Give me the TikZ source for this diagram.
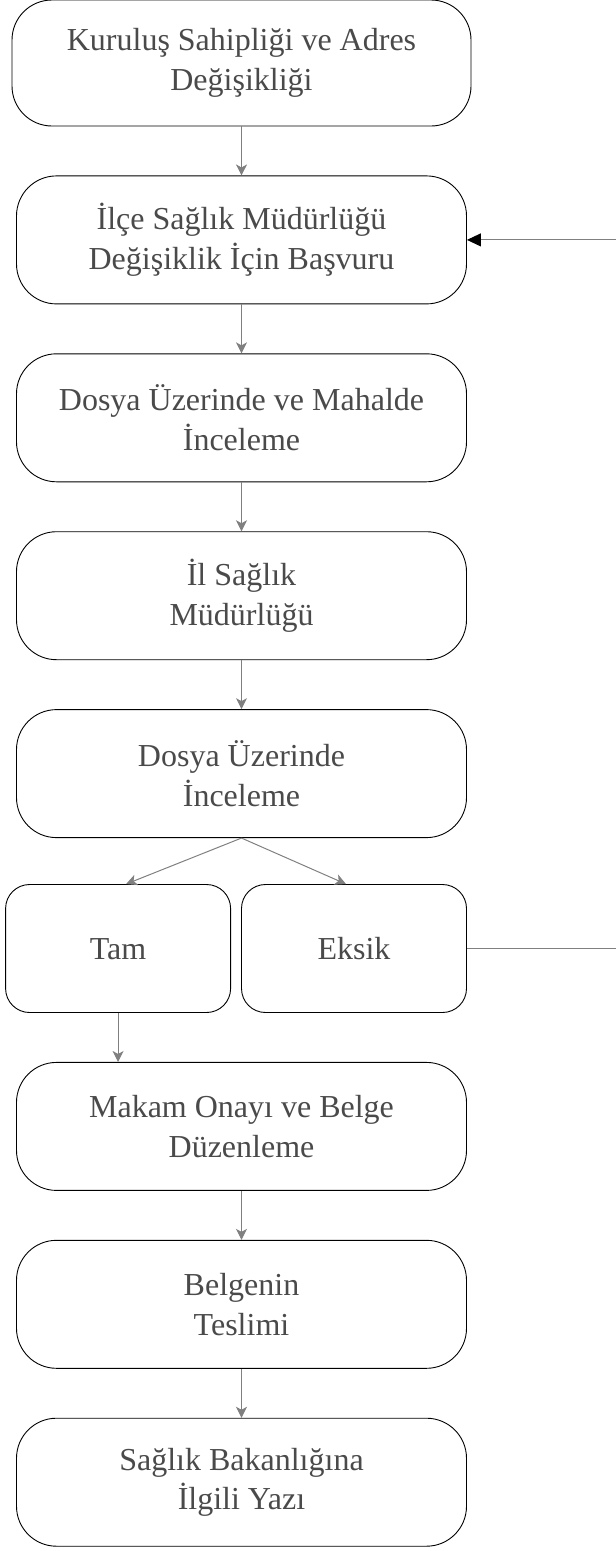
\documentclass[tikz,border=0pt]{standalone}
\usepackage{fontspec}
\setmainfont{Liberation Serif}
\usetikzlibrary{positioning,arrows.meta}
\definecolor{textgray}{HTML}{4A4A4A}
\definecolor{linegray}{HTML}{808080}

\begin{document}
\begin{tikzpicture}[
    adim/.style={draw, rectangle, rounded corners=40pt, align=center, line width=0.9pt,
        minimum width=450pt, minimum height=128pt, text=textgray,
        font=\fontsize{32}{39.5}\selectfont},
    sonuc/.style={adim, rounded corners=24pt, minimum width=225pt, text height=21pt, text depth=0pt},
    ok/.style={draw=linegray, line width=1pt, -{Stealth[length=11pt,width=11pt,inset=3pt]}},
    geri/.style={draw=linegray, line width=1pt, -{Triangle[length=14pt,width=13pt,color=black]}}]
    \useasboundingbox (0,0) rectangle (616pt,-1551pt);
    % Nodes
    \node [adim, minimum width=459pt, minimum height=126pt] (kurulus) at (241.5pt,-63pt) {Kuruluş Sahipliği ve Adres\\Değişikliği};
    \node [adim, below=49pt of kurulus] (basvuru) {İlçe Sağlık Müdürlüğü\\Değişiklik İçin Başvuru};
    \node [adim, below=49pt of basvuru] (inceleme) {Dosya Üzerinde ve Mahalde\\İnceleme};
    \node [adim, below=49pt of inceleme] (ilsaglik) {İl Sağlık\\Müdürlüğü};
    \node [adim, below=49pt of ilsaglik] (dosya) {Dosya Üzerinde\\İnceleme};
    \node [sonuc, below=46pt of dosya.south east, anchor=north east] (eksik) {Eksik};
    \node [sonuc, left=10pt of eksik] (tam) {Tam};
    \coordinate (orta) at (tam.south -| dosya.south);
    \node [adim, below=49pt of orta] (onay) {Makam Onayı ve Belge\\Düzenleme};
    \node [adim, below=49pt of onay] (teslim) {Belgenin\\Teslimi};
    \node [adim, below=49pt of teslim] (yazi) {Sağlık Bakanlığına\\İlgili Yazı};
    % Arrows
    \draw [ok] (kurulus) -- (basvuru);
    \draw [ok] (basvuru) -- (inceleme);
    \draw [ok] (inceleme) -- (ilsaglik);
    \draw [ok] (ilsaglik) -- (dosya);
    \draw [ok] (dosya.south) -- ([xshift=8pt]tam.north);
    \draw [ok] (dosya.south) -- ([xshift=-8pt]eksik.north);
    \draw [ok] (tam.south) -- (tam.south |- onay.north);
    \draw [ok] (onay) -- (teslim);
    \draw [ok] (teslim) -- (yazi);
    \draw [geri] (eksik.east) -- ++(170pt,0) |- (basvuru.east);
\end{tikzpicture}
\end{document}
